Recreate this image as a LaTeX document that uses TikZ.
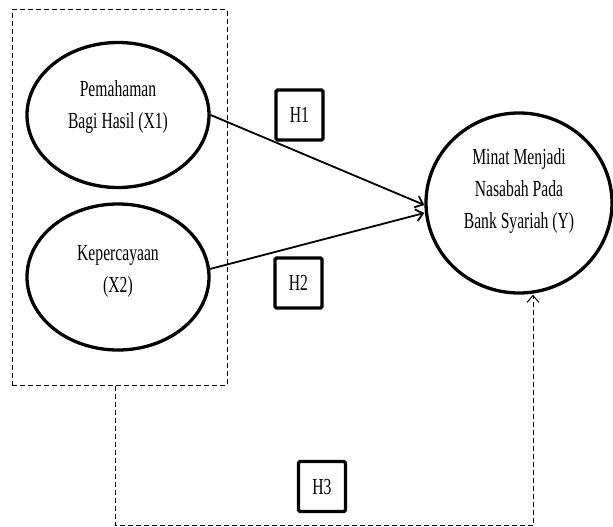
\documentclass[tikz,border=0pt]{standalone}
\usepackage{fontspec}
\usepackage{tikz}
\usetikzlibrary{shapes.geometric, arrows.meta, calc}
\newfontfamily\diagfont[FakeStretch=0.68]{Liberation Serif}

\begin{document}
\begin{tikzpicture}[
      x=1pt, y=-1pt,
      font=\diagfont\fontsize{23}{32}\selectfont,
      >={Straight Barb[length=7pt,width=12pt]},
      latent/.style={ellipse,draw,line width=3.3pt,align=center,inner sep=0pt},
      hypo box/.style={draw,line width=3.3pt,rounded corners=1.5pt,
        minimum width=47pt,minimum height=50pt,inner sep=0pt},
      group frame/.style={draw,line width=1pt,dash pattern=on 5pt off 3pt,
        minimum width=215pt,minimum height=375pt},
      effect link/.style={->,line width=1.8pt},
      group link/.style={->,line width=1pt,dash pattern=on 5pt off 3pt}
      ]
      \useasboundingbox (0,0) rectangle (613,527);
      % frame round X1 and X2
      \node [group frame] (frame) at (119.5,197.5) {};
      % variables
      \node [latent,minimum width=182pt,minimum height=145pt] (X1) at (118,115)
        {Pemahaman\\Bagi Hasil (X1)\\[-12pt]};
      \node [latent,minimum width=182pt,minimum height=146pt] (X2) at (118,277)
        {Kepercayaan\\(X2)\\[-16pt]};
      \node [latent,minimum width=186pt,minimum height=180pt] (Y) at (519,203)
        {Minat Menjadi\\Nasabah Pada\\Bank Syariah (Y)\\[-4pt]};
      % hypotheses
      \node [hypo box] (H1) at (299.5,115) {H1};
      \node [hypo box] (H2) at (298.5,283) {H2};
      \node [hypo box] (H3) at (322,486.5) {H3};
      % arcs
      \draw [effect link] (X1.east) -- ([yshift=-2pt]Y.west);
      \draw [effect link] (X2.5) -- ([yshift=-10pt]Y.west);
      \coordinate (corner) at (533,525);
      \draw [group link] ([xshift=-4.5pt]frame.south) |- (corner) -- ([xshift=14pt]Y.south);
    \end{tikzpicture}
\end{document}
